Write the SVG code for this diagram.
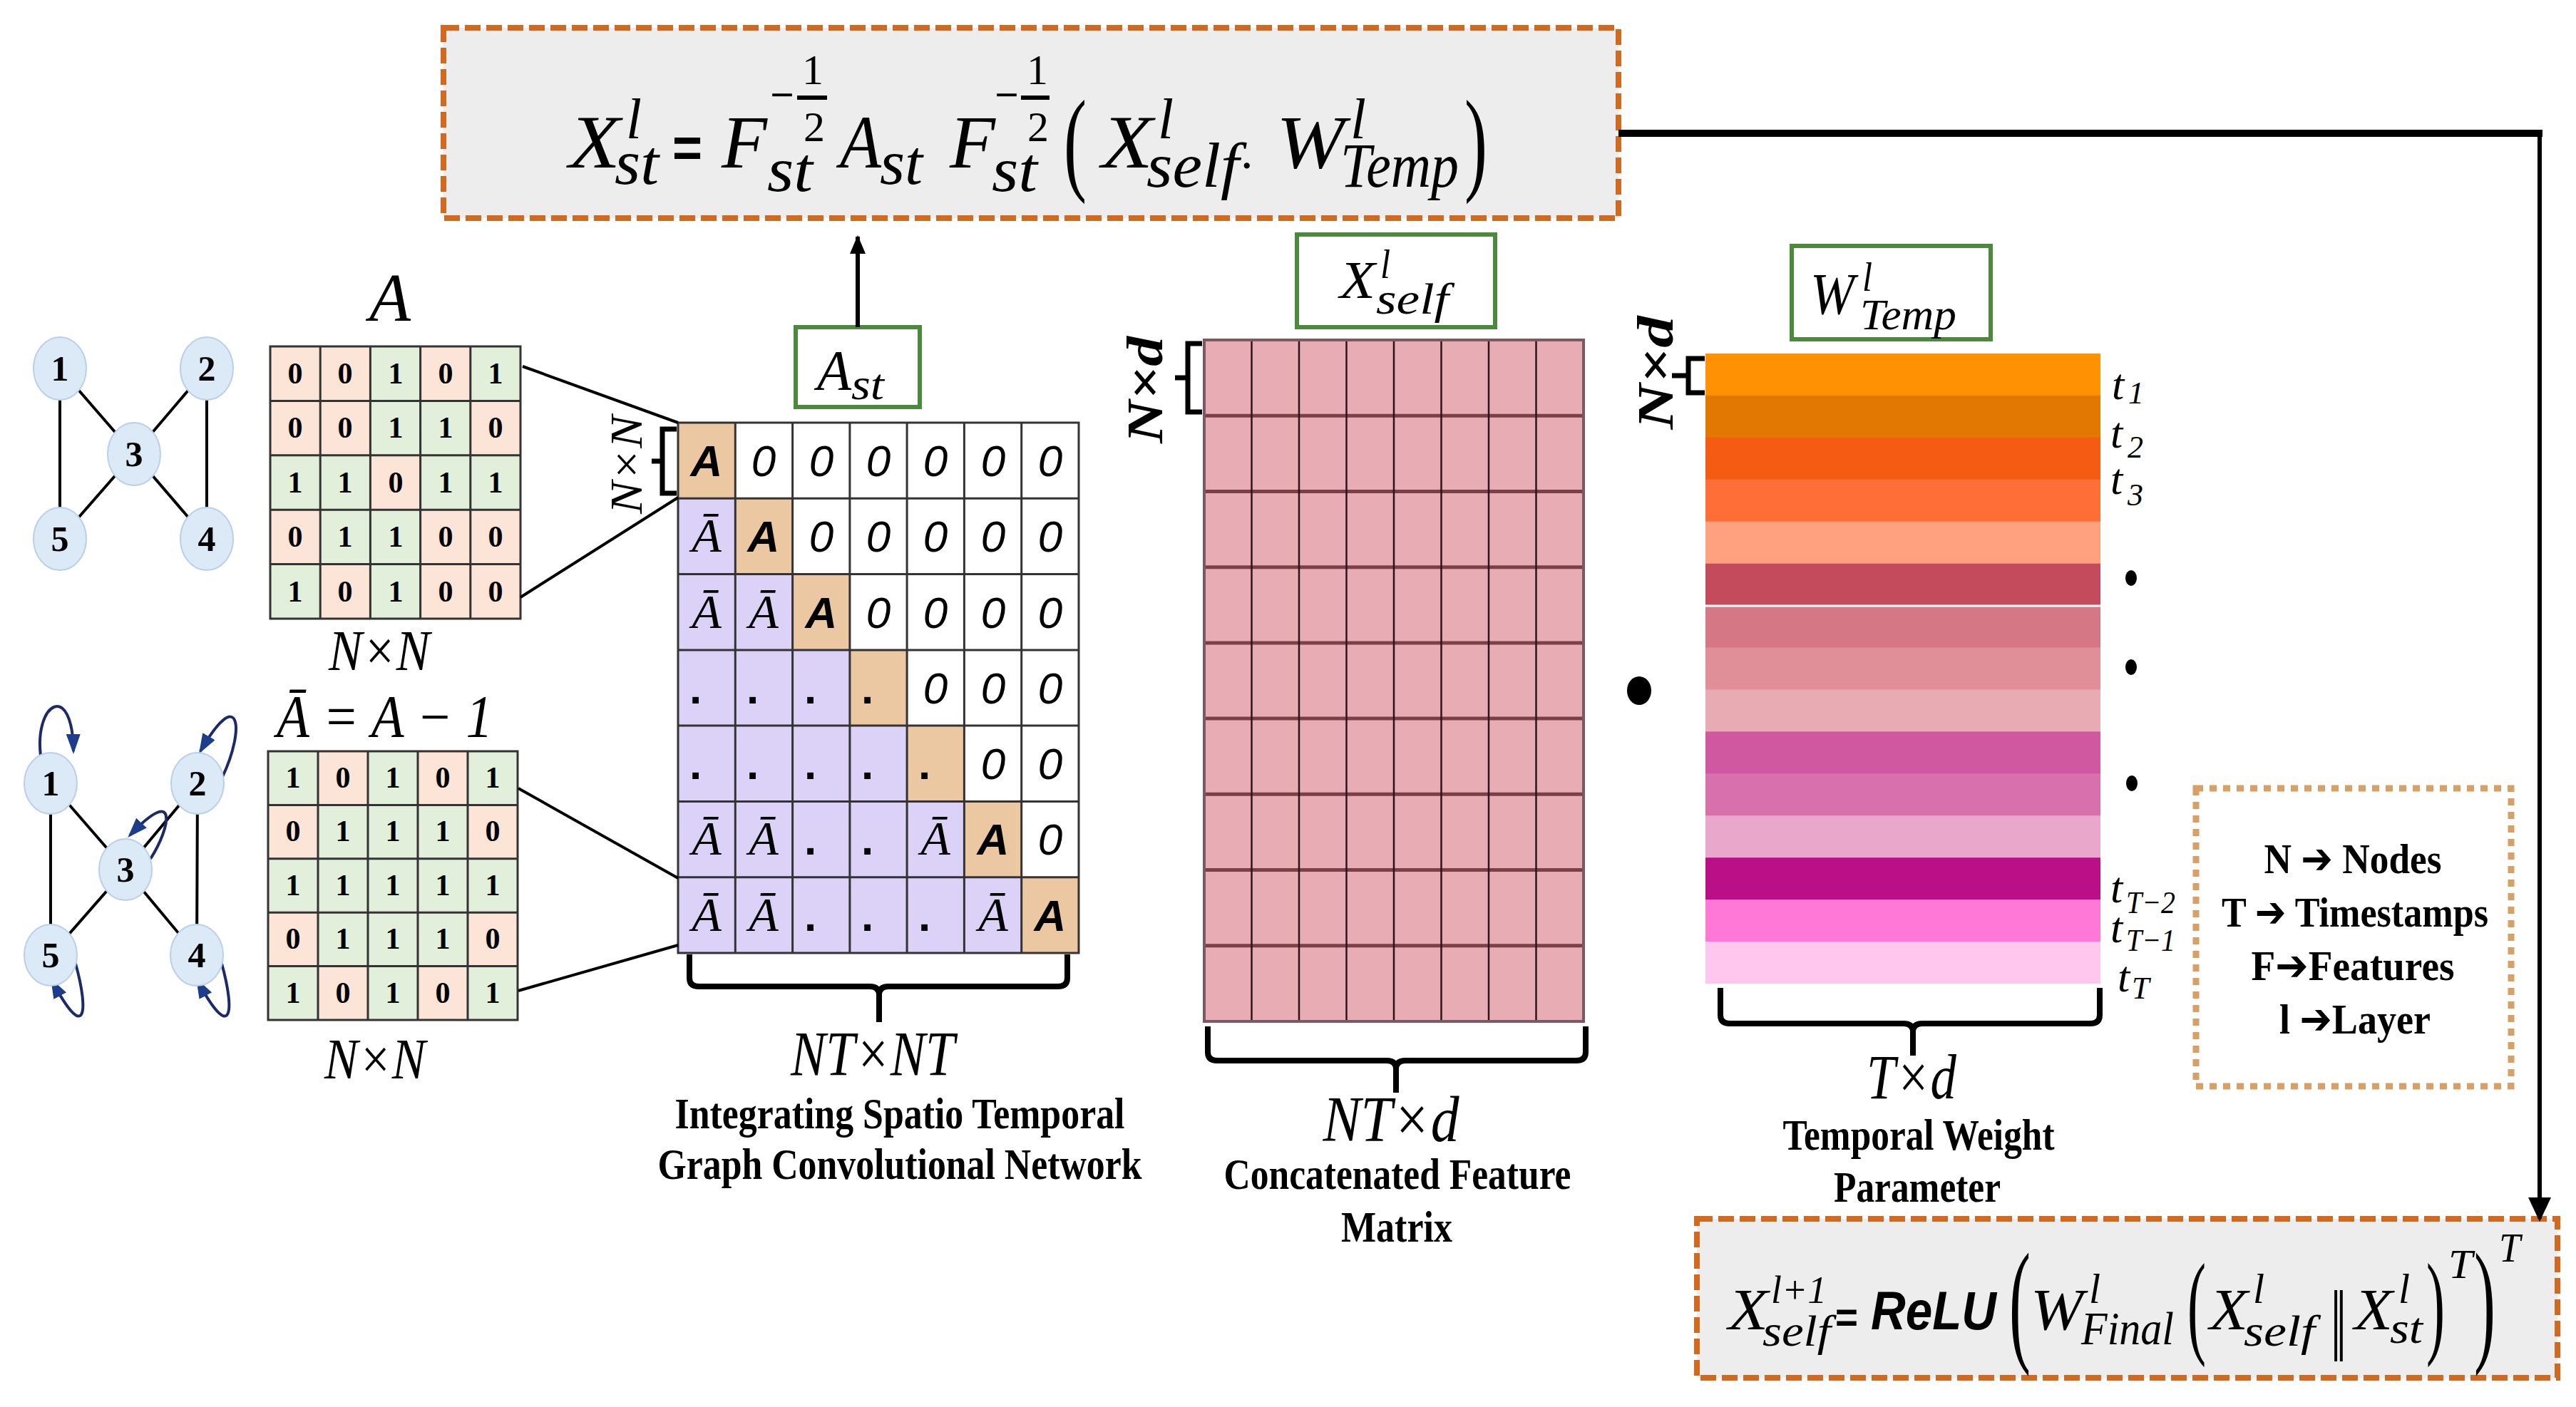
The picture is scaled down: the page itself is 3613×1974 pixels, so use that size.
<svg xmlns="http://www.w3.org/2000/svg" width="3613" height="1974" viewBox="0 0 3613 1974">
<defs>
<style>
.mi{font-family:"Liberation Serif",serif;font-style:italic;fill:#000}
.mr{font-family:"Liberation Serif",serif;fill:#000}
.bi{font-family:"Liberation Serif",serif;font-style:italic;font-weight:bold;fill:#000}
.sb{font-family:"Liberation Sans",sans-serif;font-weight:bold;fill:#000}
.sbi{font-family:"Liberation Sans",sans-serif;font-weight:bold;font-style:italic;fill:#000}
.si{font-family:"Liberation Sans",sans-serif;font-style:italic;fill:#000}
.cap{font-family:"Liberation Serif",serif;font-weight:bold;font-size:62px;fill:#000;text-anchor:middle}
.num{font-family:"Liberation Serif",serif;font-weight:bold;font-size:42px;text-anchor:middle;fill:#000}
.nd{fill:#dce9f6;stroke:#b9d0ea;stroke-width:2}
.nt{font-family:"Liberation Serif",serif;font-weight:bold;font-size:50px;text-anchor:middle;fill:#000}
.edge{stroke:#000;stroke-width:4;fill:none}
.loop{stroke:#1b2a6b;stroke-width:4;fill:none;marker-end:url(#navyArrow)}
.pe{fill:#fce4d6}
.gr{fill:#e2efda}
.grid{stroke:#333;stroke-width:3;fill:none}
.fbox{fill:#ededed;stroke:#d2691e;stroke-width:8;stroke-dasharray:22 8}
.gbox{fill:#fff;stroke:#4c8a3b;stroke-width:6}
.brace{stroke:#000;stroke-width:8;fill:none;stroke-linejoin:round}
.brk{stroke:#000;stroke-width:7;fill:none}
.conn{stroke:#000;fill:none}
.z{font-family:"Liberation Sans",sans-serif;font-style:italic;font-size:62px;text-anchor:middle;fill:#000}
.ca{font-family:"Liberation Sans",sans-serif;font-weight:bold;font-style:italic;font-size:62px;text-anchor:middle;fill:#000}
.cb{font-family:"Liberation Serif",serif;font-style:italic;font-size:68px;text-anchor:middle;fill:#000}
.cd{font-family:"Liberation Sans",sans-serif;font-weight:bold;font-size:62px;fill:#000}
</style>
<marker id="navyArrow" markerUnits="userSpaceOnUse" markerWidth="28" markerHeight="20" refX="24" refY="10" orient="auto"><path d="M0,0 L28,10 L0,20 z" fill="#1c3c8c"/></marker>
<marker id="blkArrow" markerUnits="userSpaceOnUse" markerWidth="34" markerHeight="32" refX="30" refY="16" orient="auto"><path d="M0,0 L34,16 L0,32 z" fill="#000"/></marker>
<marker id="blkArrowS" markerUnits="userSpaceOnUse" markerWidth="26" markerHeight="22" refX="24" refY="11" orient="auto"><path d="M0,0 L26,11 L0,22 z" fill="#000"/></marker>
</defs>
<rect width="3613" height="1974" fill="#fff"/>

<g id="formula-top">
<rect class="fbox" x="622" y="39" width="1648" height="267"/>
<text class="mi" x="798" y="235" font-size="106" textLength="72" lengthAdjust="spacingAndGlyphs">X</text>
<text class="mi" x="878" y="194" font-size="80" textLength="22" lengthAdjust="spacingAndGlyphs">l</text>
<text class="mi" x="862" y="258" font-size="88" textLength="62" lengthAdjust="spacingAndGlyphs">st</text>
<text class="sb" x="943" y="234" font-size="80" textLength="42" lengthAdjust="spacingAndGlyphs">=</text>
<text class="mi" x="1012" y="235" font-size="106" textLength="64" lengthAdjust="spacingAndGlyphs">F</text>
<text class="mi" x="1076" y="268" font-size="88" textLength="64" lengthAdjust="spacingAndGlyphs">st</text>
<text class="mr" x="1080" y="152" font-size="56" font-weight="bold" textLength="34" lengthAdjust="spacingAndGlyphs">−</text>
<rect x="1118" y="134" width="42" height="6" fill="#000"/>
<text class="mr" x="1140" y="118" font-size="60" text-anchor="middle">1</text>
<text class="mr" x="1142" y="198" font-size="60" text-anchor="middle">2</text>
<text class="mi" x="1178" y="235" font-size="106" textLength="58" lengthAdjust="spacingAndGlyphs">A</text>
<text class="mi" x="1234" y="258" font-size="88" textLength="60" lengthAdjust="spacingAndGlyphs">st</text>
<text class="mi" x="1332" y="235" font-size="106" textLength="64" lengthAdjust="spacingAndGlyphs">F</text>
<text class="mi" x="1391" y="268" font-size="88" textLength="64" lengthAdjust="spacingAndGlyphs">st</text>
<text class="mr" x="1395" y="152" font-size="56" font-weight="bold" textLength="34" lengthAdjust="spacingAndGlyphs">−</text>
<rect x="1432" y="134" width="40" height="6" fill="#000"/>
<text class="mr" x="1455" y="118" font-size="60" text-anchor="middle">1</text>
<text class="mr" x="1456" y="198" font-size="60" text-anchor="middle">2</text>
<text class="mr" x="1492" y="252" font-size="162" textLength="32" lengthAdjust="spacingAndGlyphs">(</text>
<text class="mi" x="1545" y="235" font-size="106" textLength="72" lengthAdjust="spacingAndGlyphs">X</text>
<text class="mi" x="1624" y="194" font-size="80" textLength="22" lengthAdjust="spacingAndGlyphs">l</text>
<text class="mi" x="1608" y="262" font-size="88" textLength="130" lengthAdjust="spacingAndGlyphs">self</text>
<text class="mr" x="1740" y="236" font-size="70">.</text>
<text class="mi" x="1790" y="235" font-size="106" textLength="96" lengthAdjust="spacingAndGlyphs">W</text>
<text class="mi" x="1894" y="194" font-size="80" textLength="22" lengthAdjust="spacingAndGlyphs">l</text>
<text class="mi" x="1880" y="262" font-size="88" textLength="166" lengthAdjust="spacingAndGlyphs">Temp</text>
<text class="mr" x="2054" y="252" font-size="162" textLength="32" lengthAdjust="spacingAndGlyphs">)</text>
</g>

<g id="graph-undirected">
<path class="edge" d="M84,517 V756 M290,517 V756 M84,517 L188,637 L290,517 M84,756 L188,637 L290,756"/>
<ellipse class="nd" cx="84" cy="517" rx="37" ry="44"/><text class="nt" x="84" y="534">1</text>
<ellipse class="nd" cx="290" cy="517" rx="37" ry="44"/><text class="nt" x="290" y="534">2</text>
<ellipse class="nd" cx="188" cy="637" rx="37" ry="44"/><text class="nt" x="188" y="654">3</text>
<ellipse class="nd" cx="290" cy="756" rx="37" ry="44"/><text class="nt" x="290" y="773">4</text>
<ellipse class="nd" cx="84" cy="756" rx="37" ry="44"/><text class="nt" x="84" y="773">5</text>
</g>

<g id="matrix-A">
<text class="mi" x="547" y="450" font-size="95" text-anchor="middle">A</text>
<rect class="pe" x="379" y="486" width="351" height="382"/>
<rect class="gr" x="519.4" y="486" width="70.2" height="76.4"/><rect class="gr" x="659.8" y="486" width="70.2" height="76.4"/>
<rect class="gr" x="519.4" y="562.4" width="140.4" height="76.4"/>
<rect class="gr" x="379" y="638.8" width="140.4" height="76.4"/><rect class="gr" x="589.6" y="638.8" width="140.4" height="76.4"/>
<rect class="gr" x="449.2" y="715.2" width="140.4" height="76.4"/>
<rect class="gr" x="379" y="791.6" width="70.2" height="76.4"/><rect class="gr" x="519.4" y="791.6" width="70.2" height="76.4"/>
<path class="grid" d="M449.2,486 V868 M519.4,486 V868 M589.6,486 V868 M659.8,486 V868 M379,562.4 H730 M379,638.8 H730 M379,715.2 H730 M379,791.6 H730"/>
<rect class="grid" x="379" y="486" width="351" height="382" stroke="#555"/>
<text class="num" x="414" y="538">0</text><text class="num" x="484" y="538">0</text><text class="num" x="555" y="538">1</text><text class="num" x="625" y="538">0</text><text class="num" x="695" y="538">1</text>
<text class="num" x="414" y="614">0</text><text class="num" x="484" y="614">0</text><text class="num" x="555" y="614">1</text><text class="num" x="625" y="614">1</text><text class="num" x="695" y="614">0</text>
<text class="num" x="414" y="691">1</text><text class="num" x="484" y="691">1</text><text class="num" x="555" y="691">0</text><text class="num" x="625" y="691">1</text><text class="num" x="695" y="691">1</text>
<text class="num" x="414" y="767">0</text><text class="num" x="484" y="767">1</text><text class="num" x="555" y="767">1</text><text class="num" x="625" y="767">0</text><text class="num" x="695" y="767">0</text>
<text class="num" x="414" y="844">1</text><text class="num" x="484" y="844">0</text><text class="num" x="555" y="844">1</text><text class="num" x="625" y="844">0</text><text class="num" x="695" y="844">0</text>
<text class="mi" x="532" y="940" font-size="80" text-anchor="middle" textLength="142" lengthAdjust="spacingAndGlyphs">N×N</text>
</g>

<g id="graph-selfloop">
<path class="edge" d="M71,1099 V1340 M277,1099 L276,1340 M71,1099 L176,1220 L277,1099 M71,1340 L176,1220 L276,1340"/>
<path class="loop" d="M57,1060 C48,985 102,955 103,1054"/>
<path class="loop" d="M312,1090 C345,1020 335,960 281,1054"/>
<path class="loop" d="M211,1205 C240,1160 250,1100 182,1172"/>
<path class="loop" d="M106,1352 C125,1420 120,1465 73,1376"/>
<path class="loop" d="M311,1352 C330,1420 325,1465 277,1376"/>
<ellipse class="nd" cx="71" cy="1099" rx="37" ry="43"/><text class="nt" x="71" y="1116">1</text>
<ellipse class="nd" cx="277" cy="1099" rx="37" ry="43"/><text class="nt" x="277" y="1116">2</text>
<ellipse class="nd" cx="176" cy="1220" rx="37" ry="43"/><text class="nt" x="176" y="1237">3</text>
<ellipse class="nd" cx="276" cy="1340" rx="37" ry="43"/><text class="nt" x="276" y="1357">4</text>
<ellipse class="nd" cx="71" cy="1340" rx="37" ry="43"/><text class="nt" x="71" y="1357">5</text>
</g>

<g id="matrix-Abar">
<text class="mi" x="388" y="1034" font-size="84" textLength="303" lengthAdjust="spacingAndGlyphs">Ā = A − 1</text>
<rect class="gr" x="376" y="1054" width="350" height="377"/>
<rect class="pe" x="446" y="1054" width="70" height="75.4"/><rect class="pe" x="586" y="1054" width="70" height="75.4"/>
<rect class="pe" x="376" y="1129.4" width="70" height="75.4"/><rect class="pe" x="656" y="1129.4" width="70" height="75.4"/>
<rect class="pe" x="376" y="1280.2" width="70" height="75.4"/><rect class="pe" x="656" y="1280.2" width="70" height="75.4"/>
<rect class="pe" x="446" y="1355.6" width="70" height="75.4"/><rect class="pe" x="586" y="1355.6" width="70" height="75.4"/>
<path class="grid" d="M446,1054 V1431 M516,1054 V1431 M586,1054 V1431 M656,1054 V1431 M376,1129.4 H726 M376,1204.8 H726 M376,1280.2 H726 M376,1355.6 H726"/>
<rect class="grid" x="376" y="1054" width="350" height="377"/>
<text class="num" x="411" y="1105">1</text><text class="num" x="481" y="1105">0</text><text class="num" x="551" y="1105">1</text><text class="num" x="621" y="1105">0</text><text class="num" x="691" y="1105">1</text>
<text class="num" x="411" y="1180">0</text><text class="num" x="481" y="1180">1</text><text class="num" x="551" y="1180">1</text><text class="num" x="621" y="1180">1</text><text class="num" x="691" y="1180">0</text>
<text class="num" x="411" y="1256">1</text><text class="num" x="481" y="1256">1</text><text class="num" x="551" y="1256">1</text><text class="num" x="621" y="1256">1</text><text class="num" x="691" y="1256">1</text>
<text class="num" x="411" y="1331">0</text><text class="num" x="481" y="1331">1</text><text class="num" x="551" y="1331">1</text><text class="num" x="621" y="1331">1</text><text class="num" x="691" y="1331">0</text>
<text class="num" x="411" y="1407">1</text><text class="num" x="481" y="1407">0</text><text class="num" x="551" y="1407">1</text><text class="num" x="621" y="1407">0</text><text class="num" x="691" y="1407">1</text>
<text class="mi" x="526" y="1513" font-size="80" text-anchor="middle" textLength="142" lengthAdjust="spacingAndGlyphs">N×N</text>
</g>

<g id="matrix-Ast">
<rect x="951" y="593" width="562" height="744" fill="#fff"/>
<path d="M951,699.3 H1031.3 V805.6 H1111.6 V911.9 H1191.9 V1018.1 H1272.1 V1124.4 H1352.4 V1230.7 H1432.7 V1337 H951 Z" fill="#dcd2f8"/>
<g fill="#ebc7a2">
<rect x="951" y="593" width="80.3" height="106.3"/>
<rect x="1031.3" y="699.3" width="80.3" height="106.3"/>
<rect x="1111.6" y="805.6" width="80.3" height="106.3"/>
<rect x="1191.9" y="911.9" width="80.2" height="106.2"/>
<rect x="1272.1" y="1018.1" width="80.3" height="106.3"/>
<rect x="1352.4" y="1124.4" width="80.3" height="106.3"/>
<rect x="1432.7" y="1230.7" width="80.3" height="106.3"/>
</g>
<path class="grid" stroke="#444" d="M1031.3,593 V1337 M1111.6,593 V1337 M1191.9,593 V1337 M1272.1,593 V1337 M1352.4,593 V1337 M1432.7,593 V1337 M951,699.3 H1513 M951,805.6 H1513 M951,911.9 H1513 M951,1018.1 H1513 M951,1124.4 H1513 M951,1230.7 H1513"/>
<rect class="grid" x="951" y="593" width="562" height="744" stroke="#555"/>
<text class="ca" x="991" y="668">A</text><text class="z" x="1071" y="668">0</text><text class="z" x="1152" y="668">0</text><text class="z" x="1232" y="668">0</text><text class="z" x="1312" y="668">0</text><text class="z" x="1393" y="668">0</text><text class="z" x="1473" y="668">0</text>
<text class="cb" x="991" y="774">Ā</text><text class="ca" x="1071" y="774">A</text><text class="z" x="1152" y="774">0</text><text class="z" x="1232" y="774">0</text><text class="z" x="1312" y="774">0</text><text class="z" x="1393" y="774">0</text><text class="z" x="1473" y="774">0</text>
<text class="cb" x="991" y="881">Ā</text><text class="cb" x="1071" y="881">Ā</text><text class="ca" x="1152" y="881">A</text><text class="z" x="1232" y="881">0</text><text class="z" x="1312" y="881">0</text><text class="z" x="1393" y="881">0</text><text class="z" x="1473" y="881">0</text>
<text class="cd" x="967" y="987">.</text><text class="cd" x="1047" y="987">.</text><text class="cd" x="1128" y="987">.</text><text class="cd" x="1208" y="987">.</text><text class="z" x="1312" y="987">0</text><text class="z" x="1393" y="987">0</text><text class="z" x="1473" y="987">0</text>
<text class="cd" x="967" y="1093">.</text><text class="cd" x="1047" y="1093">.</text><text class="cd" x="1128" y="1093">.</text><text class="cd" x="1208" y="1093">.</text><text class="cd" x="1288" y="1093">.</text><text class="z" x="1393" y="1093">0</text><text class="z" x="1473" y="1093">0</text>
<text class="cb" x="991" y="1199">Ā</text><text class="cb" x="1071" y="1199">Ā</text><text class="cd" x="1128" y="1199">.</text><text class="cd" x="1208" y="1199">.</text><text class="cb" x="1312" y="1199">Ā</text><text class="ca" x="1393" y="1199">A</text><text class="z" x="1473" y="1199">0</text>
<text class="cb" x="991" y="1306">Ā</text><text class="cb" x="1071" y="1306">Ā</text><text class="cd" x="1128" y="1306">.</text><text class="cd" x="1208" y="1306">.</text><text class="cd" x="1288" y="1306">.</text><text class="cb" x="1393" y="1306">Ā</text><text class="ca" x="1473" y="1306">A</text>
<path class="brk" stroke-width="6" d="M949,602 H929 V692 H949 M929,647 H914"/>
<text class="mi" transform="translate(900,652) rotate(-90)" font-size="64" text-anchor="middle" textLength="138" lengthAdjust="spacingAndGlyphs">N×N</text>
<path class="brace" d="M967,1339 V1372 Q967,1384 980,1384 H1220 Q1233,1384 1233,1396 V1434 M1233,1396 Q1233,1384 1246,1384 H1484 Q1497,1384 1497,1372 V1339"/>
<text class="mi" x="1224" y="1508" font-size="88" text-anchor="middle" textLength="230" lengthAdjust="spacingAndGlyphs">NT×NT</text>
<text class="cap" x="1262" y="1583" textLength="631" lengthAdjust="spacingAndGlyphs">Integrating Spatio Temporal</text>
<text class="cap" x="1262" y="1654" textLength="679" lengthAdjust="spacingAndGlyphs">Graph Convolutional Network</text>
</g>

<g id="box-Ast">
<rect class="gbox" x="1116" y="459" width="174" height="112"/>
<text class="mi" x="1146" y="547" font-size="80" textLength="48" lengthAdjust="spacingAndGlyphs">A</text>
<text class="mi" x="1194" y="560" font-size="62" textLength="46" lengthAdjust="spacingAndGlyphs">st</text>
</g>

<g id="matrix-Xself">
<rect x="1689" y="477" width="532" height="956" fill="#e8adb4"/>
<path stroke="#7a4048" stroke-width="5" fill="none" d="M1689,583.2 H2221 M1689,689.4 H2221 M1689,795.7 H2221 M1689,901.9 H2221 M1689,1008.1 H2221 M1689,1114.3 H2221 M1689,1220.6 H2221 M1689,1326.8 H2221"/>
<path stroke="#2e1418" stroke-width="2.5" fill="none" d="M1755.5,477 V1433 M1822,477 V1433 M1888.5,477 V1433 M1955,477 V1433 M2021.5,477 V1433 M2088,477 V1433 M2154.5,477 V1433"/>
<rect x="1689" y="477" width="532" height="956" fill="none" stroke="#7a5a5f" stroke-width="4"/>
<path class="brk" d="M1686,482 H1666 V578 H1686 M1666,530 H1648"/>
<text class="bi" transform="translate(1630,547) rotate(-90)" font-size="72" text-anchor="middle" textLength="150" lengthAdjust="spacingAndGlyphs">N×d</text>
<path class="brace" d="M1694,1440 V1476 Q1694,1488 1707,1488 H1945 Q1958,1488 1958,1500 V1533 M1958,1500 Q1958,1488 1971,1488 H2211 Q2224,1488 2224,1476 V1440"/>
<text class="mi" x="1951" y="1601" font-size="90" text-anchor="middle" textLength="191" lengthAdjust="spacingAndGlyphs">NT×d</text>
<text class="cap" x="1960" y="1668" textLength="487" lengthAdjust="spacingAndGlyphs">Concatenated Feature</text>
<text class="cap" x="1959" y="1742" textLength="156" lengthAdjust="spacingAndGlyphs">Matrix</text>
</g>

<g id="box-Xself">
<rect class="gbox" x="1819" y="329" width="278" height="130"/>
<text class="mi" x="1879" y="418" font-size="74" textLength="50" lengthAdjust="spacingAndGlyphs">X</text>
<text class="mi" x="1936" y="390" font-size="58" textLength="14" lengthAdjust="spacingAndGlyphs">l</text>
<text class="mi" x="1930" y="440" font-size="62" textLength="102" lengthAdjust="spacingAndGlyphs">self</text>
</g>

<g id="multiply-dot">
<ellipse cx="2299" cy="969" rx="17" ry="20" fill="#000"/>
</g>

<g id="matrix-Wtemp">
<rect x="2392" y="496" width="554" height="59.9" fill="#ff9102"/>
<rect x="2392" y="554.9" width="554" height="59.9" fill="#e27701"/>
<rect x="2392" y="613.9" width="554" height="59.9" fill="#f55b13"/>
<rect x="2392" y="672.8" width="554" height="59.9" fill="#ff6e37"/>
<rect x="2392" y="731.7" width="554" height="59.9" fill="#ffa17f"/>
<rect x="2392" y="790.7" width="554" height="59.9" fill="#c34b5b"/>
<rect x="2392" y="849.6" width="554" height="59.9" fill="#d57784"/>
<rect x="2392" y="908.5" width="554" height="59.9" fill="#e08e98"/>
<rect x="2392" y="967.5" width="554" height="59.9" fill="#e8abb3"/>
<rect x="2392" y="1026.4" width="554" height="59.9" fill="#d058a0"/>
<rect x="2392" y="1085.3" width="554" height="59.9" fill="#d870ad"/>
<rect x="2392" y="1144.2" width="554" height="59.9" fill="#e9a7cc"/>
<rect x="2392" y="1203.2" width="554" height="59.9" fill="#bb0f87"/>
<rect x="2392" y="1262.1" width="554" height="59.9" fill="#ff77d7"/>
<rect x="2392" y="1321.1" width="554" height="58.9" fill="#ffc6ee"/>
<rect x="2392" y="848.5" width="554" height="3" fill="#fff"/>
<path class="brk" d="M2391,503 H2368 V551 H2391 M2368,527 H2345"/>
<text class="bi" transform="translate(2346,523) rotate(-90)" font-size="72" text-anchor="middle" textLength="159" lengthAdjust="spacingAndGlyphs">N×d</text>
<g class="mi" font-size="62">
<text x="2962" y="560">t</text><text x="2985" y="566" font-size="44" class="mr">1</text>
<text x="2960" y="628">t</text><text x="2984" y="642" font-size="44" class="mr">2</text>
<text x="2960" y="693">t</text><text x="2984" y="709" font-size="44" class="mr">3</text>
<text x="2960" y="1266">t</text><text x="2982" y="1281" font-size="44" textLength="69" lengthAdjust="spacingAndGlyphs">T−2</text>
<text x="2960" y="1322">t</text><text x="2982" y="1334" font-size="44" textLength="69" lengthAdjust="spacingAndGlyphs">T−1</text>
<text x="2970" y="1391">t</text><text x="2990" y="1401" font-size="44">T</text>
</g>
<ellipse cx="2989" cy="811" rx="8" ry="11" fill="#000"/>
<ellipse cx="2989" cy="936" rx="8" ry="11" fill="#000"/>
<ellipse cx="2990" cy="1099" rx="8" ry="11" fill="#000"/>
<path class="brace" d="M2413,1386 V1424 Q2413,1436 2426,1436 H2670 Q2683,1436 2683,1448 V1481 M2683,1448 Q2683,1436 2696,1436 H2932 Q2945,1436 2945,1424 V1386"/>
<text class="mi" x="2681" y="1541" font-size="88" text-anchor="middle" textLength="126" lengthAdjust="spacingAndGlyphs">T×d</text>
<text class="cap" x="2691" y="1613" textLength="381" lengthAdjust="spacingAndGlyphs">Temporal Weight</text>
<text class="cap" x="2689" y="1686" textLength="234" lengthAdjust="spacingAndGlyphs">Parameter</text>
</g>

<g id="box-Wtemp">
<rect class="gbox" x="2513" y="345" width="279" height="131"/>
<text class="mi" x="2539" y="440" font-size="82" textLength="62" lengthAdjust="spacingAndGlyphs">W</text>
<text class="mi" x="2612" y="408" font-size="58" textLength="14" lengthAdjust="spacingAndGlyphs">l</text>
<text class="mi" x="2609" y="462" font-size="62" textLength="135" lengthAdjust="spacingAndGlyphs">Temp</text>
</g>

<g id="legend">
<rect x="3080" y="1106" width="442" height="418" fill="#fff" stroke="#d9a066" stroke-width="9" stroke-dasharray="10 9"/>
<g class="mr" font-size="60" font-weight="bold" text-anchor="middle">
<text x="3300" y="1225" textLength="249" lengthAdjust="spacingAndGlyphs">N <tspan font-family="DejaVu Sans">➔</tspan> Nodes</text>
<text x="3303" y="1300" textLength="374" lengthAdjust="spacingAndGlyphs">T <tspan font-family="DejaVu Sans">➔</tspan> Timestamps</text>
<text x="3300" y="1375" textLength="285" lengthAdjust="spacingAndGlyphs">F<tspan font-family="DejaVu Sans">➔</tspan>Features</text>
<text x="3303" y="1450" textLength="212" lengthAdjust="spacingAndGlyphs">l <tspan font-family="DejaVu Sans">➔</tspan>Layer</text>
</g>
</g>

<g id="formula-bottom">
<rect class="fbox" x="2380" y="1710" width="1207" height="223"/>
<text class="mi" x="2424" y="1865" font-size="82" textLength="56" lengthAdjust="spacingAndGlyphs">X</text>
<text class="mi" x="2484" y="1828" font-size="54" textLength="78" lengthAdjust="spacingAndGlyphs">l+1</text>
<text class="mi" x="2472" y="1888" font-size="62" textLength="96" lengthAdjust="spacingAndGlyphs">self</text>
<text class="sb" x="2574" y="1868" font-size="60" textLength="32" lengthAdjust="spacingAndGlyphs">=</text>
<text class="sbi" x="2624" y="1865" font-size="76" textLength="176" lengthAdjust="spacingAndGlyphs">ReLU</text>
<text class="mr" x="2818" y="1890" font-size="190" textLength="30" lengthAdjust="spacingAndGlyphs">(</text>
<text class="mi" x="2848" y="1865" font-size="82" textLength="74" lengthAdjust="spacingAndGlyphs">W</text>
<text class="mi" x="2930" y="1828" font-size="60" textLength="16" lengthAdjust="spacingAndGlyphs">l</text>
<text class="mi" x="2919" y="1886" font-size="66" textLength="130" lengthAdjust="spacingAndGlyphs">Final</text>
<text class="mr" x="3068" y="1884" font-size="160" textLength="26" lengthAdjust="spacingAndGlyphs">(</text>
<text class="mi" x="3099" y="1865" font-size="82" textLength="54" lengthAdjust="spacingAndGlyphs">X</text>
<text class="mi" x="3160" y="1828" font-size="60" textLength="16" lengthAdjust="spacingAndGlyphs">l</text>
<text class="mi" x="3147" y="1888" font-size="62" textLength="100" lengthAdjust="spacingAndGlyphs">self</text>
<text x="3268" y="1886" font-family="DejaVu Sans, sans-serif" font-size="100" textLength="24" lengthAdjust="spacingAndGlyphs">‖</text>
<text class="mi" x="3302" y="1865" font-size="82" textLength="54" lengthAdjust="spacingAndGlyphs">X</text>
<text class="mi" x="3364" y="1828" font-size="60" textLength="16" lengthAdjust="spacingAndGlyphs">l</text>
<text class="mi" x="3352" y="1884" font-size="62" textLength="46" lengthAdjust="spacingAndGlyphs">st</text>
<text class="mr" x="3403" y="1884" font-size="160" textLength="26" lengthAdjust="spacingAndGlyphs">)</text>
<text class="mi" x="3434" y="1793" font-size="56" textLength="34" lengthAdjust="spacingAndGlyphs">T</text>
<text class="mr" x="3470" y="1890" font-size="190" textLength="30" lengthAdjust="spacingAndGlyphs">)</text>
<text class="mi" x="3505" y="1770" font-size="56" textLength="30" lengthAdjust="spacingAndGlyphs">T</text>
</g>

<g id="connectors">
<path class="conn" stroke-width="4" d="M733,514 L951,593 M730,838 L951,698"/>
<path class="conn" stroke-width="4" d="M727,1106 L951,1232 M727,1390 L951,1326"/>
<path class="conn" stroke-width="6" d="M1203,459 V332" marker-end="url(#blkArrowS)"/>
<path class="conn" stroke-width="10" d="M2270,187 H3566"/>
<path class="conn" stroke-width="6" d="M3562,187 V1710" marker-end="url(#blkArrow)"/>
</g>
</svg>
